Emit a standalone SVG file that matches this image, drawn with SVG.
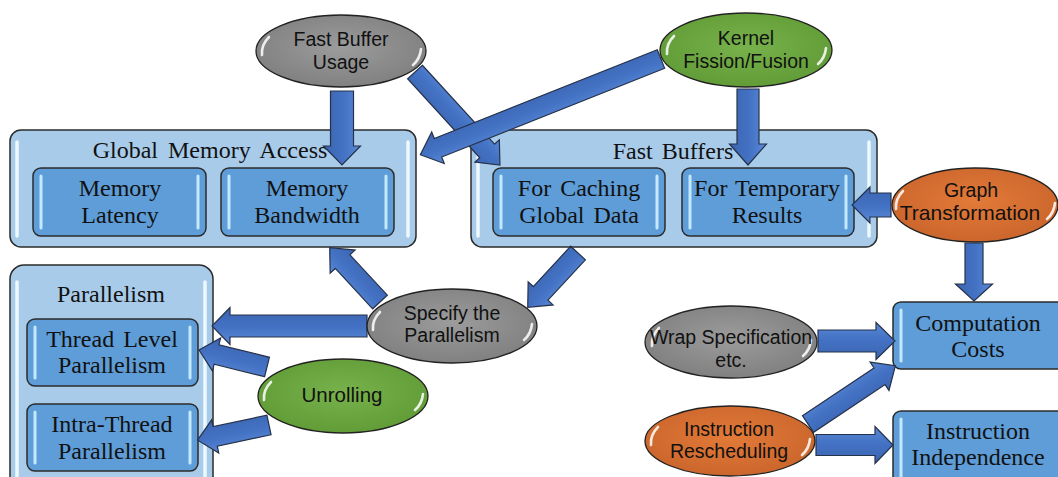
<svg xmlns="http://www.w3.org/2000/svg" xmlns:xlink="http://www.w3.org/1999/xlink" width="1058" height="477" viewBox="0 0 1058 477">
  <defs>
    <style>
      .outer { fill: #A9CBEA; stroke: #2B2B2B; stroke-width: 1.5; }
      .inner { fill: #5E9DD8; stroke: #2B2B2B; stroke-width: 1.5; }
      .gloss-o { stroke: #EEF8FF; stroke-width: 3.5; stroke-linecap: round; fill: none; }
      .gloss-i { stroke: #C4E9FF; stroke-width: 3; stroke-linecap: round; fill: none; }
      .serif { font-family: "Liberation Serif", "Times New Roman", serif; font-size: 24px; fill: #111; text-anchor: middle; }
      .sans { font-family: "Liberation Sans", Arial, sans-serif; font-size: 19.5px; fill: #111; text-anchor: middle; }
      .arrow { fill: url(#arrowFill); stroke: #26324A; stroke-width: 1.2; stroke-linejoin: miter; }
      .oval { stroke: #222; stroke-width: 1.3; }
    </style>
    <linearGradient id="arrowFill" gradientUnits="userSpaceOnUse" x1="0" y1="-19" x2="0" y2="19">
      <stop offset="0" stop-color="#5C8BD8"/>
      <stop offset="0.45" stop-color="#4472C4"/>
      <stop offset="1" stop-color="#3A64B0"/>
    </linearGradient>
    <radialGradient id="gray" cx="0.5" cy="0.45" r="0.6">
      <stop offset="0" stop-color="#9C9C9C"/>
      <stop offset="1" stop-color="#7E7E7E"/>
    </radialGradient>
    <radialGradient id="green" cx="0.5" cy="0.45" r="0.6">
      <stop offset="0" stop-color="#78B24B"/>
      <stop offset="1" stop-color="#5F9A36"/>
    </radialGradient>
    <radialGradient id="orange" cx="0.5" cy="0.45" r="0.6">
      <stop offset="0" stop-color="#E27A38"/>
      <stop offset="1" stop-color="#C9642B"/>
    </radialGradient>
    <!-- glossy crescents on the rim of an oval, placed relative to its centre -->
    <g id="shine">
      <path d="M -79 4 Q -80 -6 -72 -14" fill="none" stroke="#FFFFFF" stroke-width="2.6" stroke-linecap="round" opacity="0.85"/>
      <path d="M 80 -2 Q 79 8 72 14" fill="none" stroke="#FFFFFF" stroke-width="2.6" stroke-linecap="round" opacity="0.85"/>
    </g>
  </defs>

  <!-- Global Memory Access -->
  <g id="global-memory-access">
    <rect class="outer" x="10" y="130" width="406" height="117" rx="11"/>
    <line class="gloss-o" x1="17" y1="142" x2="17" y2="236"/>
    <line class="gloss-o" x1="408" y1="142" x2="408" y2="236"/>
    <text class="serif" x="210" y="158" word-spacing="4">Global Memory Access</text>
    <g id="memory-latency">
      <rect class="inner" x="33" y="168" width="173" height="68" rx="8"/>
      <line class="gloss-i" x1="41" y1="176" x2="41" y2="228"/>
      <line class="gloss-i" x1="198" y1="176" x2="198" y2="228"/>
      <text class="serif" x="120" y="196">Memory</text>
      <text class="serif" x="120" y="223">Latency</text>
    </g>
    <g id="memory-bandwidth">
      <rect class="inner" x="221" y="168" width="173" height="68" rx="8"/>
      <line class="gloss-i" x1="229" y1="176" x2="229" y2="228"/>
      <line class="gloss-i" x1="386" y1="176" x2="386" y2="228"/>
      <text class="serif" x="307" y="196">Memory</text>
      <text class="serif" x="307" y="223">Bandwidth</text>
    </g>
  </g>

  <!-- Fast Buffers -->
  <g id="fast-buffers">
    <rect class="outer" x="471" y="130" width="406" height="117" rx="11"/>
    <line class="gloss-o" x1="478" y1="142" x2="478" y2="236"/>
    <line class="gloss-o" x1="869" y1="142" x2="869" y2="236"/>
    <text class="serif" x="673" y="159" word-spacing="3">Fast Buffers</text>
    <g id="caching-global-data">
      <rect class="inner" x="493" y="168" width="172" height="68" rx="8"/>
      <line class="gloss-i" x1="501" y1="176" x2="501" y2="228"/>
      <line class="gloss-i" x1="657" y1="176" x2="657" y2="228"/>
      <text class="serif" x="579" y="196" word-spacing="3">For Caching</text>
      <text class="serif" x="579" y="223" word-spacing="3">Global Data</text>
    </g>
    <g id="temporary-results">
      <rect class="inner" x="682" y="168" width="172" height="68" rx="8"/>
      <line class="gloss-i" x1="690" y1="176" x2="690" y2="228"/>
      <line class="gloss-i" x1="846" y1="176" x2="846" y2="228"/>
      <text class="serif" x="767" y="196" word-spacing="2">For Temporary</text>
      <text class="serif" x="767" y="223">Results</text>
    </g>
  </g>

  <!-- Parallelism -->
  <g id="parallelism">
    <rect class="outer" x="10" y="265" width="203" height="230" rx="14"/>
    <line class="gloss-o" x1="17" y1="282" x2="17" y2="480"/>
    <line class="gloss-o" x1="205" y1="282" x2="205" y2="480"/>
    <text class="serif" x="111" y="302">Parallelism</text>
    <g id="thread-level">
      <rect class="inner" x="27" y="319" width="171" height="67" rx="8"/>
      <line class="gloss-i" x1="35" y1="327" x2="35" y2="378"/>
      <line class="gloss-i" x1="190" y1="327" x2="190" y2="378"/>
      <text class="serif" x="112" y="347" word-spacing="3">Thread Level</text>
      <text class="serif" x="112" y="373">Parallelism</text>
    </g>
    <g id="intra-thread">
      <rect class="inner" x="27" y="404" width="171" height="67" rx="8"/>
      <line class="gloss-i" x1="35" y1="412" x2="35" y2="463"/>
      <line class="gloss-i" x1="190" y1="412" x2="190" y2="463"/>
      <text class="serif" x="112" y="432">Intra-Thread</text>
      <text class="serif" x="112" y="459">Parallelism</text>
    </g>
  </g>

  <!-- Computation Costs -->
  <g id="computation-costs">
    <rect class="inner" x="893" y="302" width="172" height="67" rx="8"/>
    <line class="gloss-i" x1="901" y1="310" x2="901" y2="361"/>
    <text class="serif" x="978" y="331">Computation</text>
    <text class="serif" x="978" y="357">Costs</text>
  </g>

  <!-- Instruction Independence -->
  <g id="instruction-independence">
    <rect class="inner" x="893" y="411" width="172" height="80" rx="8"/>
    <line class="gloss-i" x1="901" y1="419" x2="901" y2="480"/>
    <text class="serif" x="978" y="439">Instruction</text>
    <text class="serif" x="978" y="465">Independence</text>
  </g>

  <!-- Block arrows: drawn along +x from the tail (0,0) to the tip (L,0) -->
  <g id="connectors">
    <polygon class="arrow" transform="translate(342,91) rotate(90)" points="0,-11.5 55,-11.5 55,-18.5 74,0 55,18.5 55,11.5 0,11.5"/>
    <polygon class="arrow" transform="translate(415,72) rotate(47.6)" points="0,-10 107,-10 107,-16.5 126,0 107,16.5 107,10 0,10"/>
    <polygon class="arrow" transform="translate(661,59) rotate(158.3)" points="0,-10 240,-10 240,-17 259,0 240,17 240,10 0,10"/>
    <polygon class="arrow" transform="translate(748,89) rotate(90)" points="0,-11 55,-11 55,-18.5 76,0 55,18.5 55,11 0,11"/>
    <polygon class="arrow" transform="translate(891,205) rotate(180)" points="0,-12 21,-12 21,-18 39,0 21,18 21,12 0,12"/>
    <polygon class="arrow" transform="translate(974,243) rotate(90)" points="0,-9 41,-9 41,-18.5 58,0 41,18.5 41,9 0,9"/>
    <polygon class="arrow" transform="translate(380,302) rotate(-132.8)" points="0,-10 55,-10 55,-17 74,0 55,17 55,10 0,10"/>
    <polygon class="arrow" transform="translate(578,253) rotate(132.8)" points="0,-10 55,-10 55,-17 74,0 55,17 55,10 0,10"/>
    <polygon class="arrow" transform="translate(367,326) rotate(180)" points="0,-11 137,-11 137,-18.5 155,0 137,18.5 137,11 0,11"/>
    <polygon class="arrow" transform="translate(267,367) rotate(194)" points="0,-10 52,-10 52,-17 70,0 52,17 52,10 0,10"/>
    <polygon class="arrow" transform="translate(269,425) rotate(168)" points="0,-10 55,-10 55,-17 73,0 55,17 55,10 0,10"/>
    <polygon class="arrow" transform="translate(818,341) rotate(0)" points="0,-11 58,-11 58,-18.5 77,0 58,18.5 58,11 0,11"/>
    <polygon class="arrow" transform="translate(808,424) rotate(-33.7)" points="0,-10 86,-10 86,-17 105,0 86,17 86,10 0,10"/>
    <polygon class="arrow" transform="translate(816,445) rotate(0)" points="0,-10.5 59,-10.5 59,-18.5 77,0 59,18.5 59,10.5 0,10.5"/>
  </g>

  <!-- Ovals -->
  <g id="fast-buffer-usage">
    <ellipse class="oval" cx="341" cy="51" rx="85" ry="36" fill="url(#gray)"/>
    <use xlink:href="#shine" x="341" y="51"/>
    <text class="sans" x="341" y="46">Fast Buffer</text>
    <text class="sans" x="341" y="69">Usage</text>
  </g>
  <g id="kernel-fission-fusion">
    <ellipse class="oval" cx="746" cy="50" rx="86" ry="37" fill="url(#green)"/>
    <use xlink:href="#shine" x="746" y="50"/>
    <text class="sans" x="746" y="45">Kernel</text>
    <text class="sans" x="746" y="68">Fission/Fusion</text>
  </g>
  <g id="graph-transformation">
    <ellipse class="oval" cx="975" cy="205" rx="83" ry="37" fill="url(#orange)"/>
    <use xlink:href="#shine" x="975" y="205"/>
    <text class="sans" x="971" y="197">Graph</text>
    <text class="sans" x="970" y="220" style="font-size:21px">Transformation</text>
  </g>
  <g id="specify-parallelism">
    <ellipse class="oval" cx="452" cy="326" rx="85" ry="37" fill="url(#gray)"/>
    <use xlink:href="#shine" x="452" y="326"/>
    <text class="sans" x="452" y="320">Specify the</text>
    <text class="sans" x="452" y="342">Parallelism</text>
  </g>
  <g id="unrolling">
    <ellipse class="oval" cx="343" cy="396" rx="85" ry="37" fill="url(#green)"/>
    <use xlink:href="#shine" x="343" y="396"/>
    <text class="sans" x="342" y="402" style="font-size:20.5px">Unrolling</text>
  </g>
  <g id="wrap-specification">
    <ellipse class="oval" cx="731" cy="342" rx="86" ry="36" fill="url(#gray)"/>
    <use xlink:href="#shine" x="731" y="342"/>
    <text class="sans" x="731" y="344">Wrap Specification</text>
    <text class="sans" x="731" y="367">etc.</text>
  </g>
  <g id="instruction-rescheduling">
    <ellipse class="oval" cx="730" cy="441" rx="85" ry="35" fill="url(#orange)"/>
    <use xlink:href="#shine" x="730" y="441"/>
    <text class="sans" x="729" y="436">Instruction</text>
    <text class="sans" x="729" y="458">Rescheduling</text>
  </g>
</svg>
